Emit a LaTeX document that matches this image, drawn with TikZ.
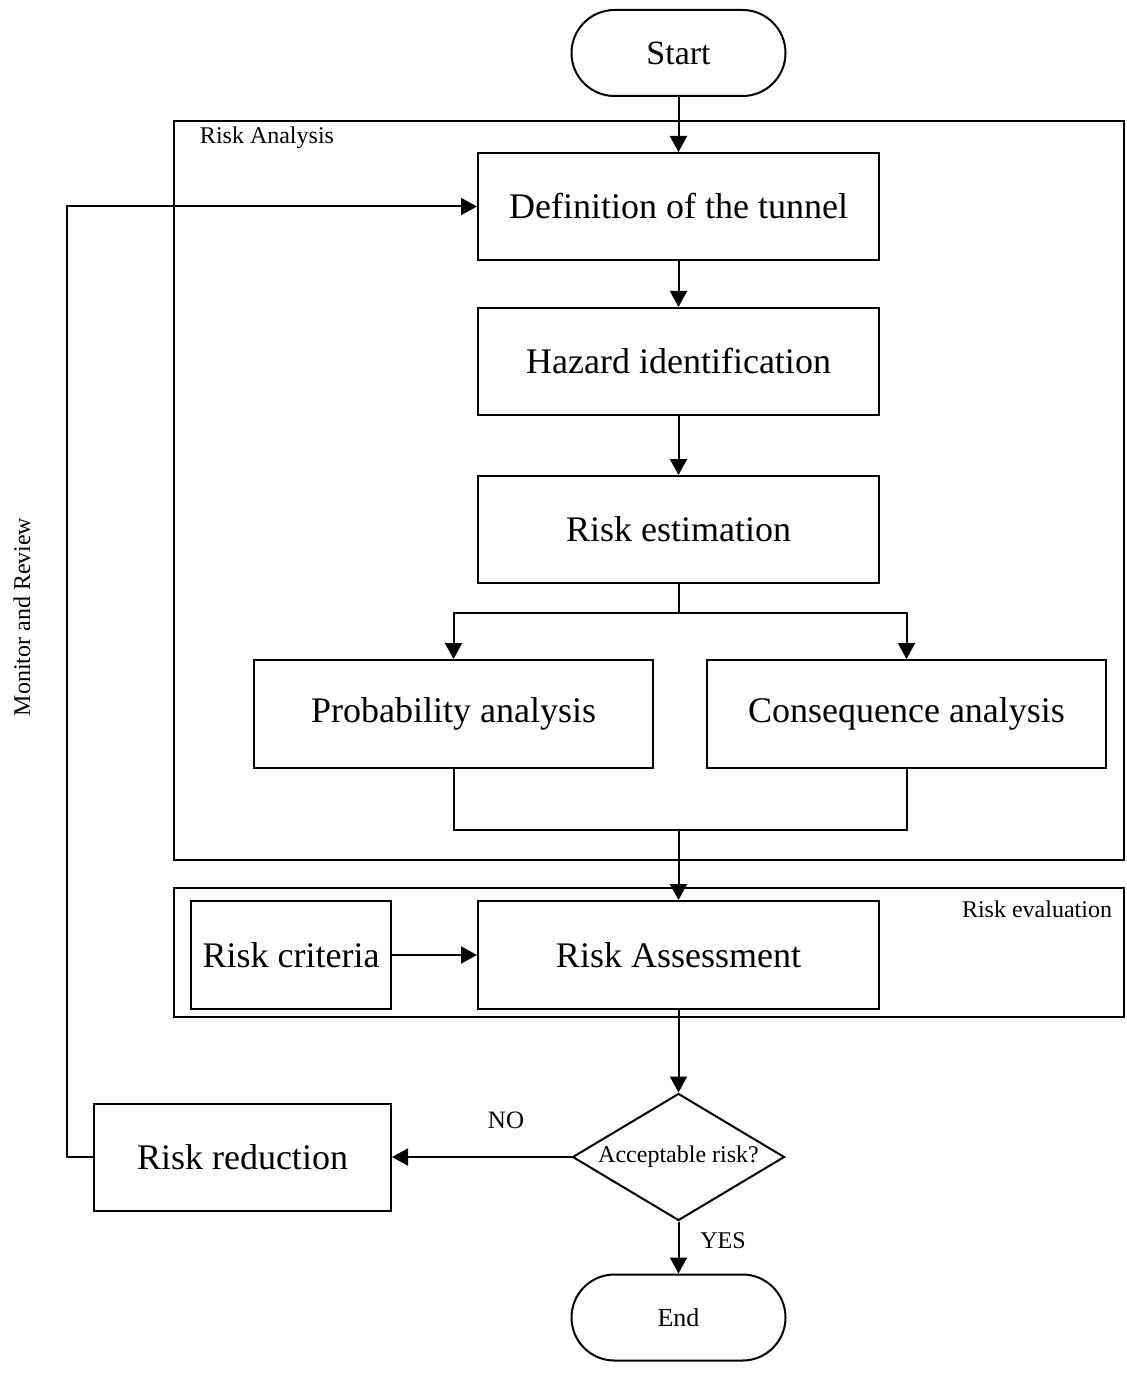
\documentclass[tikz,border=0pt]{standalone}
\usepackage{fontspec}
\setmainfont{Liberation Serif}
\usetikzlibrary{shapes.geometric,arrows.meta}
\begin{document}
\begin{tikzpicture}[x=0.5pt,y=-0.5pt,
  line width=1pt,
  arr/.style={-{Triangle[width=8.5pt,length=8pt]}},
  proc/.style={draw,rectangle,minimum width=200.5pt,minimum height=53.5pt,inner sep=0pt,font=\fontsize{18}{21}\selectfont},
  term/.style={draw,rectangle,rounded corners=21.5pt,minimum width=107pt,minimum height=43pt,inner sep=0pt},
  frame/.style={draw,rectangle,inner sep=0pt},
  small/.style={font=\fontsize{12}{14}\selectfont,inner sep=0pt}
]
\useasboundingbox (0,0) rectangle (1127,1374);
% frames
\node[frame,minimum width=475pt,minimum height=369.5pt] (fa) at (649,490.5) {};
\node[frame,minimum width=475pt,minimum height=64.5pt] (fe) at (649,952.5) {};
\node[small] (la) at (267,138) {Risk Analysis};
\node[small] (le) at (1037,909) {Risk evaluation};
% nodes
\node[term,font=\fontsize{17}{19}\selectfont] (start) at (678.5,53) {Start};
\node[proc] (def) at (678.5,206.5) {Definition of the tunnel};
\node[proc] (haz) at (678.5,361.5) {Hazard identification};
\node[proc] (est) at (678.5,529.5) {Risk estimation};
\node[proc,minimum width=199.5pt,minimum height=54pt] (prob) at (453.5,714) {Probability analysis};
\node[proc,minimum width=199.5pt,minimum height=54pt] (cons) at (906.5,714) {Consequence analysis};
\node[proc,minimum width=100pt,minimum height=54pt] (crit) at (291,955) {Risk criteria};
\node[proc,minimum height=54pt] (assess) at (678.5,955) {Risk Assessment};
\node[draw,diamond,minimum width=106pt,minimum height=63.5pt,inner sep=0pt] (dec) at (678.5,1157) {};
\node[font=\fontsize{12}{14}\selectfont,inner sep=0pt] (dect) at (dec.center) {Acceptable risk?};
\node[proc,minimum width=148.5pt,minimum height=53.5pt] (red) at (242.5,1157) {Risk reduction};
\node[term,font=\fontsize{13}{15}\selectfont] (end) at (678.5,1317.5) {End};
\node[small,font=\fontsize{12.5}{14}\selectfont] (no) at (506,1120) {NO};
\node[small] (yes) at (723,1241) {YES};
\node[small,rotate=90] (mon) at (22,617) {Monitor and Review};
% coordinates
\coordinate (split) at (678.5,613);
\coordinate (merge) at (678.5,830);
% connectors
\draw[arr] (start) -- (def);
\draw[arr] (def) -- (haz);
\draw[arr] (haz) -- (est);
\draw (est.south) -- (split);
\draw[arr] (split) -| (prob.north);
\draw[arr] (split) -| (cons.north);
\draw (prob.south) |- (merge) -| (cons.south);
\draw[arr] (merge) -- (assess.north);
\draw[arr] (crit) -- (assess);
\draw[arr] (assess.south) -- (dec.north);
\draw[arr] (dec.west) -- (red.east);
\draw[arr] (dec.south) -- (end.north);
\draw[arr] (red.west) -- ++(-26,0) |- (def.west);
\end{tikzpicture}
\end{document}
